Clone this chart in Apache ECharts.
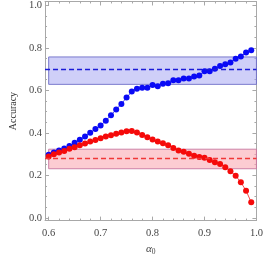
<!DOCTYPE html>
<html><head><meta charset="utf-8">
<script src="https://cdn.jsdelivr.net/npm/echarts@6/dist/echarts.min.js"></script>
<style>html,body{margin:0;padding:0;background:#fff}#c{width:266px;height:261px}</style>
</head><body><div id="c"></div>
<script>
const alpha0 = [0.60,0.61,0.62,0.63,0.64,0.65,0.66,0.67,0.68,0.69,0.70,0.71,0.72,0.73,0.74,0.75,0.76,0.77,0.78,0.79,
                0.80,0.81,0.82,0.83,0.84,0.85,0.86,0.87,0.88,0.89,0.90,0.91,0.92,0.93,0.94,0.95,0.96,0.97,0.98,0.99];
const blueAcc = [0.297,0.308,0.317,0.326,0.338,0.353,0.367,0.383,0.400,0.418,0.434,0.457,0.483,0.510,0.536,0.566,0.594,0.607,0.612,0.612,
                 0.625,0.619,0.631,0.633,0.647,0.647,0.656,0.656,0.665,0.670,0.690,0.690,0.701,0.714,0.723,0.731,0.749,0.759,0.778,0.789];
const redAcc = [0.289,0.299,0.307,0.314,0.325,0.332,0.342,0.350,0.359,0.366,0.375,0.383,0.388,0.396,0.402,0.407,0.408,0.402,0.390,0.379,
                0.369,0.359,0.351,0.341,0.329,0.317,0.311,0.301,0.292,0.286,0.283,0.272,0.262,0.253,0.238,0.219,0.198,0.167,0.128,0.073];
const blueBand = [0.628, 0.757];
const blueMean = 0.696;
const redBand = [0.231, 0.323];
const redMean = 0.277;
const bandX = [0.6, 1.0];
const xMajorTicks = [0.6,0.7,0.8,0.9,1.0];
const xMinorTicks = [0.62,0.64,0.66,0.68,0.72,0.74,0.76,0.78,0.82,0.84,0.86,0.88,0.92,0.94,0.96,0.98];
const yMajorTicks = [0,0.2,0.4,0.6,0.8,1.0];
const yMinorTicks = [0.05,0.1,0.15,0.25,0.3,0.35,0.45,0.5,0.55,0.65,0.7,0.75,0.85,0.9,0.95];
const xRange = [0.593, 1.0];
const yRange = [-0.013, 1.018];

const frameColor = '#a8a8a8';
const labelFont = {fontFamily:'Liberation Serif', fontSize:10.5, color:'#444'};

function xAx(pos, ticks, len, labels, line, extra) {
  return Object.assign({
    type:'value', position:pos, min:xRange[0], max:xRange[1],
    axisLine:{show:line, onZero:false, lineStyle:{color:frameColor, width:1}},
    axisTick:{show:true, inside:true, length:len, customValues:ticks, lineStyle:{color:frameColor, width:1}},
    axisLabel:labels ? Object.assign({show:true, customValues:ticks, margin:7, formatter:v=>v.toFixed(1)}, labelFont) : {show:false},
    splitLine:{show:false}
  }, extra||{});
}
function yAx(pos, ticks, len, labels, line, extra) {
  return Object.assign({
    type:'value', position:pos, min:yRange[0], max:yRange[1],
    axisLine:{show:line, onZero:false, lineStyle:{color:frameColor, width:1}},
    axisTick:{show:true, inside:true, length:len, customValues:ticks, lineStyle:{color:frameColor, width:1}},
    axisLabel:labels ? Object.assign({show:true, customValues:ticks, margin:3, formatter:v=>v.toFixed(1)}, labelFont) : {show:false},
    splitLine:{show:false}
  }, extra||{});
}

const chart = echarts.init(document.getElementById('c'), null, {renderer:'canvas'});
chart.setOption({
  animation:false,
  backgroundColor:'#fff',
  grid:{left:32, top:1, width:228, height:231, containLabel:false},
  xAxis:[
    xAx('bottom', xMajorTicks, 4, true, true, {
      name:'{a|α}{s|0}', nameLocation:'middle', nameGap:13,
      nameTextStyle:{rich:{
        a:{fontFamily:'Liberation Serif', fontStyle:'italic', fontSize:11, color:'#444'},
        s:{fontFamily:'Liberation Serif', fontSize:7.5, color:'#444', padding:[6,0,0,0]}
      }}
    }),
    xAx('bottom', xMinorTicks, 2, false, false),
    xAx('top', xMajorTicks, 4, false, true),
    xAx('top', xMinorTicks, 2, false, false)
  ],
  yAxis:[
    yAx('left', yMajorTicks, 4, true, true, {
      name:'Accuracy', nameLocation:'middle', nameGap:21, nameRotate:90,
      nameTextStyle:{fontFamily:'Liberation Serif', fontSize:10, color:'#333'}
    }),
    yAx('left', yMinorTicks, 2, false, false),
    yAx('right', yMajorTicks, 4, false, true),
    yAx('right', yMinorTicks, 2, false, false)
  ],
  series:[
    {
      type:'line', data:[], z:1, xAxisIndex:0, yAxisIndex:0, silent:true,
      markArea:{silent:true, data:[
        [{xAxis:bandX[0], yAxis:blueBand[0], itemStyle:{color:'rgba(160,160,242,0.5)', borderColor:'rgba(110,110,200,0.9)', borderWidth:1}},
         {xAxis:bandX[1], yAxis:blueBand[1]}],
        [{xAxis:bandX[0], yAxis:redBand[0], itemStyle:{color:'rgba(250,170,180,0.6)', borderColor:'rgba(200,120,160,0.9)', borderWidth:1}},
         {xAxis:bandX[1], yAxis:redBand[1]}]
      ]},
      markLine:{silent:true, symbol:'none', label:{show:false}, data:[
        {yAxis:blueMean, lineStyle:{color:'#1a1ad8', type:[5,3], width:1.3}},
        {yAxis:redMean, lineStyle:{color:'#f03838', type:[5,3], width:1.3}}
      ]}
    },
    {
      type:'line', z:3, xAxisIndex:0, yAxisIndex:0,
      data:alpha0.map((a,i)=>[a, blueAcc[i]]),
      symbol:'circle', symbolSize:6, showSymbol:true,
      itemStyle:{color:'#0a0af5'}, lineStyle:{color:'#4a4af5', width:1}
    },
    {
      type:'line', z:3, xAxisIndex:0, yAxisIndex:0,
      data:alpha0.map((a,i)=>[a, redAcc[i]]),
      symbol:'circle', symbolSize:6, showSymbol:true,
      itemStyle:{color:'#f50a0a'}, lineStyle:{color:'#f54a4a', width:1}
    }
  ]
});
</script>
</body></html>
